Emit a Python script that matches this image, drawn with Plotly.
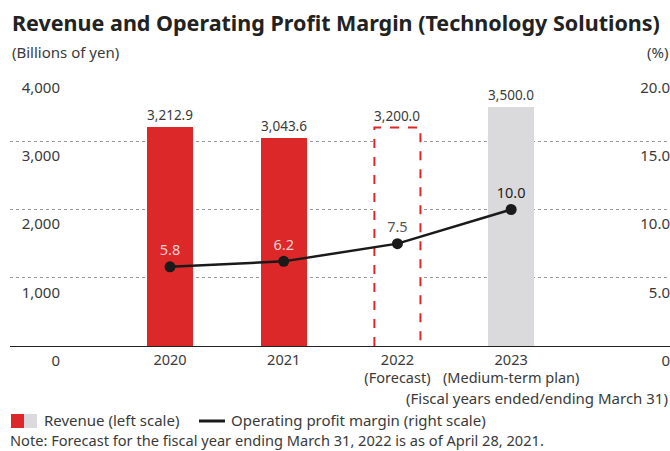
import plotly.graph_objects as go

years = ["2020", "2021", "2022", "2023"]
year_notes = ["", "", "(Forecast)", "(Medium-term plan)"]
revenue = [3212.9, 3043.6, 3200.0, 3500.0]
margin = [5.8, 6.2, 7.5, 10.0]
bar_colors = ["#dc2828", "#dc2828", "#ffffff", "#dad9db"]
margin_label_colors = ["#f2d2d2", "#f2d2d2", "#555555", "#222222"]
left_ticks = [0, 1000, 2000, 3000, 4000]
left_ticktext = ["0", "1,000", "2,000", "3,000", "4,000"]
right_ticks = [0, 5, 10, 15, 20]
right_ticktext = ["0", "5.0", "10.0", "15.0", "20.0"]

FONT = "Noto Sans"
FS = 15
TXT = "#3a3a3a"
RED = "#dc2828"
BAR_W = 0.405

W, H = 670, 451
ML, MR, MT, MB = 10, 0, 73, 105
PW, PH = W - ML - MR, H - MT - MB


def px(x):
    return (x - ML) / PW


def py(y):
    return (H - MB - y) / PH


xs = list(range(len(years)))
ticktext = [y if not n else f"{y}<br>{n}" for y, n in zip(years, year_notes)]

fig = go.Figure()
fig.add_trace(go.Bar(
    x=xs, y=revenue, width=BAR_W,
    marker=dict(color=bar_colors, line=dict(width=0)),
    text=[f"{v:,.1f}" for v in revenue], textposition="outside",
    textfont=dict(family=FONT, size=14.5, color=TXT), cliponaxis=False,
    showlegend=False, yaxis="y",
))
# dashed outline for forecast bar
fi = 2
fig.add_trace(go.Scatter(
    x=[fi - BAR_W / 2, fi - BAR_W / 2, fi + BAR_W / 2, fi + BAR_W / 2],
    y=[0, revenue[fi], revenue[fi], 0],
    mode="lines", line=dict(color=RED, width=2, dash="dash"),
    showlegend=False, hoverinfo="skip", yaxis="y",
))
fig.add_trace(go.Scatter(
    x=xs, y=margin, yaxis="y2",
    mode="lines+markers+text",
    line=dict(color="#1a1a1a", width=2.5),
    marker=dict(color="#1a1a1a", size=11),
    text=[f"{v:.1f}" for v in margin], textposition="top center",
    textfont=dict(family=FONT, size=14.5, color=margin_label_colors),
    showlegend=False, cliponaxis=False,
))

ann_font = dict(family=FONT, size=FS, color=TXT)
fig.update_layout(
    width=W, height=H,
    margin=dict(l=ML, r=MR, t=MT, b=MB, autoexpand=False),
    paper_bgcolor="white", plot_bgcolor="white",
    font=dict(family=FONT, size=FS, color=TXT),
    bargap=0,
    xaxis=dict(
        range=[-1.407, 4.397], tickvals=xs, ticktext=ticktext,
        showgrid=False, showline=True, linecolor="#222", linewidth=1.2,
        ticks="", tickfont=dict(size=14.5, color=TXT), zeroline=False,
        domain=[0, 1], automargin=False,
    ),
    yaxis=dict(
        range=[0, 4000], tickvals=left_ticks, ticktext=left_ticktext,
        showgrid=True, gridcolor="#9a9a9a", griddash="dot", gridwidth=1,
        zeroline=False, showline=False, ticks="",
        anchor="free", position=px(60), ticklabelposition="outside bottom",
        ticklabelshift=4,
        tickfont=dict(size=FS, color=TXT), automargin=False,
    ),
    yaxis2=dict(
        range=[0, 20], tickvals=right_ticks, ticktext=right_ticktext,
        overlaying="y", side="left", anchor="free", position=1.0,
        showgrid=False, zeroline=False,
        showline=False, ticks="", ticklabelposition="outside bottom",
        ticklabelshift=4,
        tickfont=dict(size=FS, color=TXT), automargin=False,
    ),
    annotations=[
        dict(text="<b>Revenue and Operating Profit Margin (Technology Solutions)</b>",
             x=px(10), y=py(22), xref="paper", yref="paper", xanchor="left",
             yanchor="middle", showarrow=False,
             font=dict(family=FONT, size=21.5, color="#222")),
        dict(text="(Billions of yen)", x=px(10), y=py(52), xref="paper", yref="paper",
             xanchor="left", yanchor="middle", showarrow=False, font=ann_font),
        dict(text="(%)", x=px(670), y=py(52), xref="paper", yref="paper",
             xanchor="right", yanchor="middle", showarrow=False, font=ann_font),
        dict(text="(Fiscal years ended/ending March 31)", x=px(670), y=py(398),
             xref="paper", yref="paper",
             xanchor="right", yanchor="middle", showarrow=False, font=ann_font),
        dict(text="Revenue (left scale)", x=px(42), y=py(420), xref="paper", yref="paper",
             xanchor="left", yanchor="middle", showarrow=False, font=ann_font),
        dict(text="Operating profit margin (right scale)", x=px(229), y=py(420),
             xref="paper", yref="paper",
             xanchor="left", yanchor="middle", showarrow=False, font=ann_font),
        dict(text="Note: Forecast for the fiscal year ending March 31, 2022 is as of April 28, 2021.",
             x=px(8), y=py(440), xref="paper", yref="paper",
             xanchor="left", yanchor="middle", showarrow=False,
             font=dict(family=FONT, size=14.6, color=TXT)),
    ],
    shapes=[
        dict(type="rect", xref="paper", yref="paper", x0=px(11), x1=px(24),
             y0=py(428), y1=py(414), fillcolor=RED, line=dict(width=0)),
        dict(type="rect", xref="paper", yref="paper", x0=px(24), x1=px(37),
             y0=py(428), y1=py(414), fillcolor="#dad9db", line=dict(width=0)),
        dict(type="line", xref="paper", yref="paper", x0=px(199), x1=px(225),
             y0=py(421), y1=py(421), line=dict(color="#1a1a1a", width=3)),
    ],
)

fig.write_html("out.html", config={"displayModeBar": False},
               post_script="document.body.style.margin='0';")
